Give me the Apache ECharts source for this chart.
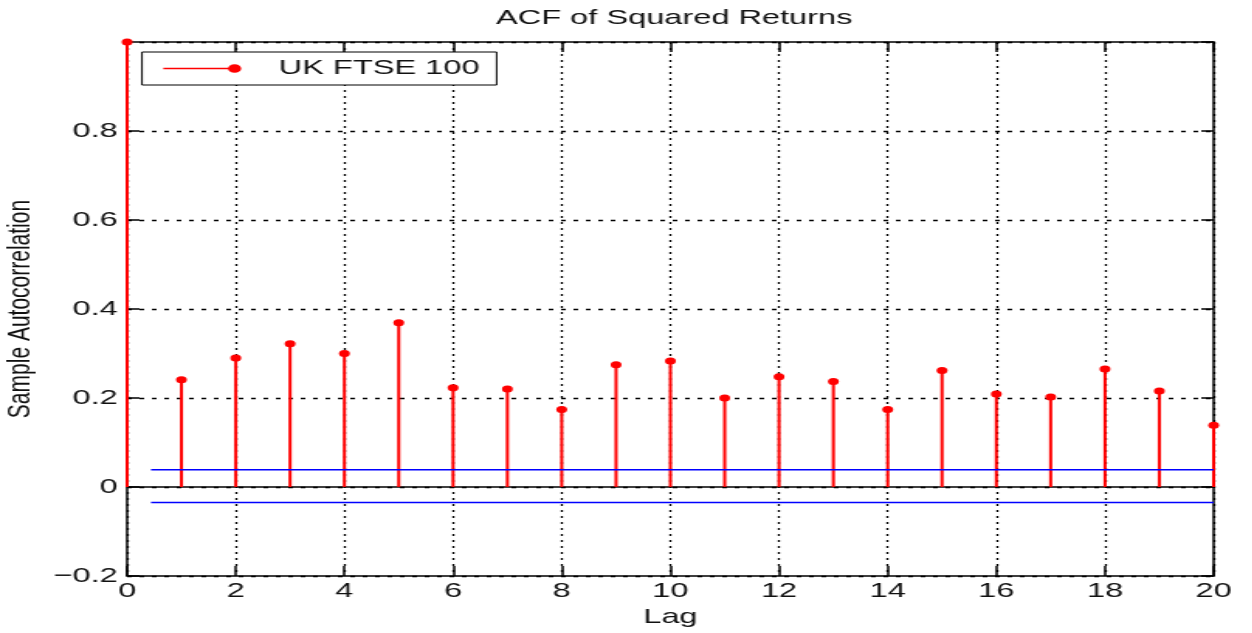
<!DOCTYPE html>
<html>
<head>
<meta charset="utf-8">
<script src="https://cdn.jsdelivr.net/npm/echarts@6.0.0/dist/echarts.min.js"></script>
<style>
  html, body { margin: 0; padding: 0; background: #fff; overflow: hidden; }
  /* the figure is laid out narrow and widened horizontally */
  #wrap { width: 1252px; height: 633px; overflow: hidden; }
  #chart { width: 807.7px; height: 633px; transform: scaleX(1.55); transform-origin: 0 0; }
</style>
</head>
<body>
<div id="wrap"><div id="chart"></div></div>
<script>
// Sample autocorrelation of squared FTSE 100 returns, lags 0..20
const lags = [0, 1, 2, 3, 4, 5, 6, 7, 8, 9, 10, 11, 12, 13, 14, 15, 16, 17, 18, 19, 20];
const acfValues = [1.0, 0.241, 0.290, 0.322, 0.300, 0.369, 0.223, 0.220, 0.174, 0.275, 0.283,
                   0.200, 0.248, 0.237, 0.174, 0.262, 0.209, 0.202, 0.265, 0.216, 0.139];
const seriesName = 'UK FTSE 100';

// confidence bounds drawn as horizontal lines
const boundStartLag = 0.44;
const boundEndLag = 20;
const boundUpper = 0.039;
const boundLower = -0.035;

const titleText = 'ACF of Squared Returns';
const xAxisName = 'Lag';
const yAxisName = 'Sample Autocorrelation';

const FONT = '"Liberation Sans", Arial, Helvetica, sans-serif';
const TEXT = '#111';

const stemData = lags.map((l, i) => [l, acfValues[i]]);

const chart = echarts.init(document.getElementById('chart'), null, { renderer: 'canvas' });

const fmtY = v => {
  const n = Number(v.toFixed(1));
  return n < 0 ? '\u2212' + Math.abs(n) : String(n);
};

chart.setOption({
  animation: false,
  backgroundColor: '#fff',
  title: {
    text: titleText,
    left: 430,
    textAlign: 'center',
    top: 3,
    textStyle: { fontFamily: FONT, fontSize: 21, fontWeight: 'normal', color: TEXT }
  },
  legend: {
    left: 91.6,
    top: 52,
    padding: [6, 11, 6, 13],
    borderColor: '#000',
    borderWidth: 1,
    borderRadius: 0,
    backgroundColor: '#fff',
    itemWidth: 49.5,
    itemHeight: 7,
    data: [{
      name: seriesName,
      icon: 'path://M0,3.5L46,3.5M42.5,3.5a3.5,3.5 0 1,0 7,0a3.5,3.5 0 1,0 -7,0Z'
    }],
    itemStyle: { color: '#ff0000', borderColor: '#ff0000', borderWidth: 1.5 },
    formatter: name => '{g|}{n|' + name + '}',
    textStyle: {
      fontFamily: FONT, fontSize: 21, color: TEXT,
      rich: { g: { width: 20 }, n: { fontFamily: FONT, fontSize: 21, color: TEXT } }
    }
  },
  grid: { left: 82, right: 25, top: 42, bottom: 57, containLabel: false, outerBoundsMode: 'none' },
  xAxis: [{
    type: 'value', min: 0, max: 20, interval: 2, position: 'bottom',
    name: xAxisName, nameLocation: 'middle', nameGap: 30,
    nameTextStyle: { fontFamily: FONT, fontSize: 21, color: TEXT },
    axisLine: { show: true, onZero: false, lineStyle: { color: '#000', width: 1.5 } },
    axisTick: { show: true, inside: true, length: 10, lineStyle: { color: '#000', width: 1.5 } },
    axisLabel: { margin: 5, fontFamily: FONT, fontSize: 21, color: TEXT },
    splitLine: { show: true, lineStyle: { color: '#000', width: 1.3, type: [2, 4] } }
  }, {
    type: 'value', min: 0, max: 20, interval: 2, position: 'top',
    axisLine: { show: true, onZero: false, lineStyle: { color: '#000', width: 1.5 } },
    axisTick: { show: true, inside: true, length: 10, lineStyle: { color: '#000', width: 1.5 } },
    axisLabel: { show: false },
    splitLine: { show: false }
  }],
  yAxis: [{
    type: 'value', min: -0.2, max: 1, interval: 0.2, position: 'left',
    name: yAxisName, nameLocation: 'middle', nameGap: 54,
    nameTextStyle: { fontFamily: FONT, fontSize: 21, color: TEXT },
    axisLine: { show: true, onZero: false, lineStyle: { color: '#000', width: 1.5 } },
    axisTick: { show: true, inside: true, length: 8, lineStyle: { color: '#000', width: 1.5 } },
    axisLabel: { margin: 6, fontFamily: FONT, fontSize: 21, color: TEXT, showMaxLabel: false, formatter: fmtY },
    splitLine: { show: true, lineStyle: { color: '#000', width: 1.3, type: [3, 5] } }
  }, {
    type: 'value', min: -0.2, max: 1, interval: 0.2, position: 'right',
    axisLine: { show: true, onZero: false, lineStyle: { color: '#000', width: 1.5 } },
    axisTick: { show: true, inside: true, length: 8, lineStyle: { color: '#000', width: 1.5 } },
    axisLabel: { show: false },
    splitLine: { show: false }
  }],
  series: [
    {
      name: 'zero',
      type: 'line',
      xAxisIndex: 0, yAxisIndex: 0,
      data: [[0, 0], [20, 0]],
      symbol: 'none', silent: true, z: 1,
      lineStyle: { color: '#000', width: 1.5 }
    },
    {
      name: 'upper bound',
      type: 'line',
      xAxisIndex: 0, yAxisIndex: 0,
      data: [[boundStartLag, boundUpper], [boundEndLag, boundUpper]],
      symbol: 'none', silent: true, z: 3,
      lineStyle: { color: '#0000ff', width: 1.5 }
    },
    {
      name: 'lower bound',
      type: 'line',
      xAxisIndex: 0, yAxisIndex: 0,
      data: [[boundStartLag, boundLower], [boundEndLag, boundLower]],
      symbol: 'none', silent: true, z: 3,
      lineStyle: { color: '#0000ff', width: 1.5 }
    },
    {
      name: seriesName,
      type: 'custom',
      xAxisIndex: 0, yAxisIndex: 0,
      clip: false,
      z: 2,
      itemStyle: { color: '#ff0000' },
      encode: { x: 0, y: 1 },
      data: stemData,
      renderItem: (params, api) => {
        const x = api.value(0);
        const y = api.value(1);
        const base = api.coord([x, 0]);
        const tip = api.coord([x, y]);
        return {
          type: 'group',
          children: [
            { type: 'line', shape: { x1: base[0], y1: base[1], x2: tip[0], y2: tip[1] },
              style: { stroke: '#ff0000', lineWidth: 2 } },
            { type: 'circle', shape: { cx: tip[0], cy: tip[1], r: 3.5 },
              style: { fill: '#ff0000' } }
          ]
        };
      }
    }
  ]
});
</script>
</body>
</html>
